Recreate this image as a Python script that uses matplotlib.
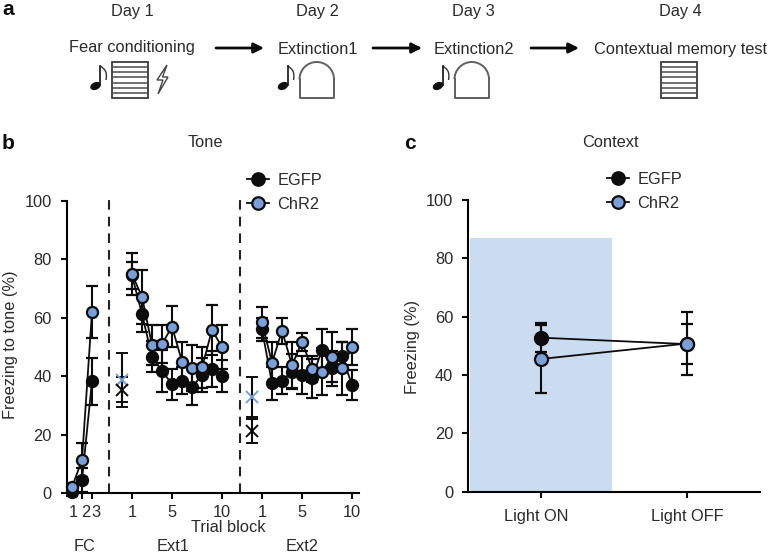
import matplotlib
matplotlib.use('Agg')
import matplotlib.pyplot as plt
from matplotlib.patches import Polygon, Rectangle, Arc, Ellipse, PathPatch
from matplotlib.path import Path
from matplotlib.transforms import ScaledTranslation

plt.rcParams['font.family'] = ['Liberation Sans', 'DejaVu Sans']

# panel b, freezing to tone
fc_blocks = [1, 2, 3]
fc_egfp = [0.5, 4.5, 38.3]
fc_egfp_err = [1.5, 4, 8]
fc_chr2 = [2, 11.3, 62]
fc_chr2_err = [1.5, 5.7, 9]

ext1_blocks = [7, 8, 9, 10, 11, 12, 13, 14, 15, 16]
ext1_egfp = [74.5, 61.3, 46.7, 41.8, 37.3, 38.5, 36.2, 40.4, 42.5, 40.2]
ext1_egfp_err = [4.7, 6.1, 5.2, 7.1, 5.3, 4.5, 6.2, 5.7, 6.1, 5.5]
ext1_chr2 = [74.9, 67.2, 50.7, 51, 57, 45, 42.7, 43, 55.8, 50]
ext1_chr2_err = [7.2, 9.2, 6.8, 6.5, 7, 6.8, 7.9, 7, 8.6, 7.5]

ext2_blocks = [20, 21, 22, 23, 24, 25, 26, 27, 28, 29]
ext2_egfp = [56, 37.6, 38.5, 41.6, 40.4, 39.3, 49, 42.7, 47, 37]
ext2_egfp_err = [4, 5.6, 4.5, 6, 6.4, 6.6, 7, 6, 4.6, 5]
ext2_chr2 = [58.4, 44.6, 55.6, 43.8, 51.8, 42.5, 41.6, 46.5, 42.7, 50]
ext2_chr2_err = [5.2, 7, 4.5, 8, 3, 4.5, 8, 8.6, 9, 6]

pre_blocks = [6, 19]
pre_egfp = [35.3, 21.2]
pre_egfp_err = [4.3, 4.2]
pre_chr2 = [38.7, 32.8]
pre_chr2_err = [9.1, 6.8]

tone_ticks = [1, 2, 3, 7, 11, 16, 20, 24, 29]
tone_ticklabels = ['1', '2', '3', '1', '5', '10', '1', '5', '10']
tone_dividers = [4.73, 17.77]

# panel c, freezing to context
context_labels = ['Light ON', 'Light OFF']
context_egfp = [52.8, 50.6]
context_egfp_err = [4.9, 6.8]
context_chr2 = [45.5, 50.8]
context_chr2_err = [11.5, 10.8]

yticks = [0, 20, 40, 60, 80, 100]

black = '#0c0c0c'
blue = '#7a9fd9'
text_col = '#2a2a2a'
fs = 11.8
W, H = 768, 553


def ax_rect(left, right, top, bottom):
    return [left / W, 1 - bottom / H, (right - left) / W, (bottom - top) / H]


def draw_series(ax, x, y, err, face, z, ms=8):
    ax.errorbar(x, y, yerr=err, color=black, lw=1.3, elinewidth=1.5, capsize=4.3, capthick=1.5,
                marker='o', ms=ms, mfc=face, mec=black, mew=1.6, zorder=z, clip_on=False)


def style_axes(ax):
    ax.spines['top'].set_visible(False)
    ax.spines['right'].set_visible(False)
    ax.spines['left'].set_linewidth(1.5)
    ax.spines['bottom'].set_linewidth(1.5)
    ax.patch.set_alpha(0)
    ax.set_ylim(0, 100)
    ax.set_yticks(yticks)
    ax.tick_params(axis='both', width=1.5, length=4.6, labelsize=fs, colors=black, labelcolor=text_col)
    ax.tick_params(axis='y', pad=6)


def draw_legend(ax, x, y):
    h1 = ax.errorbar([], [], color=black, lw=1.3, marker='o', ms=9, mfc=black, mec=black, mew=1.6)
    h2 = ax.errorbar([], [], color=black, lw=1.3, marker='o', ms=9, mfc=blue, mec=black, mew=1.6)
    leg = ax.legend([h1[0], h2[0]], ['EGFP', 'ChR2'], loc='upper left', bbox_to_anchor=(x, y),
                    frameon=False, fontsize=fs, handlelength=1.35, handletextpad=0.5,
                    labelspacing=0.55, borderpad=0, borderaxespad=0, labelcolor=text_col)
    leg.set_zorder(10)


fig = plt.figure(figsize=(W / 100, H / 100), dpi=100)

# whole-figure layer in pixel coordinates for the protocol schematic and labels
bg = fig.add_axes([0, 0, 1, 1])
bg.set_xlim(0, W)
bg.set_ylim(H, 0)
bg.axis('off')


def label(x, y, s, size=fs, weight='normal', col=text_col):
    bg.text(x, y + 1.5, s, ha='center', va='center', fontsize=size, fontweight=weight, color=col)


def striped_box(x0, y0, w, h):
    bg.add_patch(Rectangle((x0, y0), w, h, fc='white', ec='#3c3c3c', lw=1.3))
    for k in range(1, 7):
        yy = y0 + h * k / 7
        bg.plot([x0, x0 + w], [yy, yy], color='#4a4a4a', lw=1.1)


def arch(x0, y0, w, h):
    r = w / 2
    bg.add_patch(Arc((x0 + r, y0 + r), w, w, theta1=180, theta2=360, ec='#606060', lw=1.4))
    bg.plot([x0, x0, x0 + w, x0 + w], [y0 + r, y0 + h, y0 + h, y0 + r], color='#606060', lw=1.4)


def note(x, y):
    # x, y is the middle of the note head
    bg.add_patch(Ellipse((x, y), 11, 7.5, angle=-25, fc='#111111', ec='none'))
    bg.plot([x + 4.7, x + 4.7], [y - 1, y - 20], color='#111111', lw=1.2)
    flag = Path([(x + 4.7, y - 20), (x + 9, y - 17), (x + 12, y - 15), (x + 10.5, y - 6)],
                [Path.MOVETO, Path.CURVE4, Path.CURVE4, Path.CURVE4])
    bg.add_patch(PathPatch(flag, fc='none', ec='#333333', lw=1))


for x, s in zip([132, 317, 473, 680], ['Day 1', 'Day 2', 'Day 3', 'Day 4']):
    label(x, 10, s)
label(132, 46, 'Fear conditioning')
label(318, 48, 'Extinction1')
label(474, 48, 'Extinction2')
label(681, 48, 'Contextual memory test')

for x0, x1 in [(216, 264), (373, 422), (531, 579)]:
    bg.annotate('', xy=(x1, 48), xytext=(x0, 48),
                arrowprops=dict(arrowstyle='-|>,head_length=0.6,head_width=0.3', color=black, lw=2,
                                shrinkA=0, shrinkB=0))

striped_box(112, 62, 36, 36)
striped_box(661, 62, 36, 36)
arch(299.5, 62, 34.5, 36)
arch(454.5, 62, 34.5, 36)
note(95.5, 86)
note(283, 86)
note(438, 86)
bg.add_patch(Polygon([(167, 65), (157, 80), (163, 80), (158, 94), (168, 77), (162.5, 77)],
                     closed=True, fc='white', ec='#444444', lw=1))

label(8, 8, 'a', size=15, weight='bold', col=black)
label(8, 142, 'b', size=15, weight='bold', col=black)
label(410, 142, 'c', size=15, weight='bold', col=black)
label(205, 141, 'Tone')
label(610, 141, 'Context')
label(85, 545, 'FC')
label(173, 545, 'Ext1')
label(302, 545, 'Ext2')

# panel b
ax1 = fig.add_axes(ax_rect(66.5, 359, 201, 493))
style_axes(ax1)
ax1.set_xlim(0.45, 29.7)
ax1.set_xticks(tone_ticks)
ax1.set_xticklabels(tone_ticklabels)
ax1.tick_params(axis='x', pad=4)
for lab, shift in zip(ax1.get_xticklabels()[:3], [1, 3.5, 4]):
    lab.set_transform(lab.get_transform() + ScaledTranslation(shift / 100, 0, fig.dpi_scale_trans))
for xd in tone_dividers:
    ax1.plot([xd, xd], [0, 101], color='#222222', lw=1.5, ls=(0, (4.6, 3.4)), clip_on=False, zorder=1)

draw_series(ax1, fc_blocks, fc_egfp, fc_egfp_err, black, 3)
draw_series(ax1, ext1_blocks, ext1_egfp, ext1_egfp_err, black, 3)
draw_series(ax1, ext2_blocks, ext2_egfp, ext2_egfp_err, black, 3)
draw_series(ax1, fc_blocks, fc_chr2, fc_chr2_err, blue, 4)
draw_series(ax1, ext1_blocks, ext1_chr2, ext1_chr2_err, blue, 4)
draw_series(ax1, ext2_blocks, ext2_chr2, ext2_chr2_err, blue, 4)

ax1.errorbar(pre_blocks, pre_chr2, yerr=pre_chr2_err, ls='none', ecolor=black, elinewidth=1.5,
             capsize=4.3, capthick=1.5, marker='x', ms=8, mec=blue, mew=1.4, zorder=3)
ax1.errorbar(pre_blocks, pre_egfp, yerr=pre_egfp_err, ls='none', ecolor=black, elinewidth=1.5,
             capsize=4.3, capthick=1.5, marker='x', ms=8, mec=black, mew=1.4, zorder=3)

ax1.set_ylabel('Freezing to tone (%)', fontsize=fs, color=text_col)
ax1.yaxis.set_label_coords((18 - 66.5) / 292.5, 0.507)
ax1.set_xlabel('Trial block', fontsize=fs, color=text_col, va='center')
ax1.xaxis.set_label_coords((228 - 66.5) / 292.5, -35 / 292)
draw_legend(ax1, (247 - 66.5) / 292.5, 1 + 28 / 292)

# panel c
ax2 = fig.add_axes(ax_rect(468, 760, 200, 491.7))
style_axes(ax2)
ax2.set_xlim(-0.5, 1.5)
ax2.set_xticks([0, 1])
ax2.set_xticklabels(context_labels)
ax2.tick_params(axis='x', pad=8)
ax2.get_xticklabels()[0].set_transform(ax2.get_xticklabels()[0].get_transform()
                                       + ScaledTranslation(-5 / 100, 0, fig.dpi_scale_trans))
ax2.axvspan(-0.487, 0.489, ymin=0, ymax=0.87, color='#cbdbf0', lw=0, zorder=0)
draw_series(ax2, [0, 1], context_egfp, context_egfp_err, black, 3, ms=9.4)
draw_series(ax2, [0, 1], context_chr2, context_chr2_err, blue, 4, ms=9.4)
ax2.set_ylabel('Freezing (%)', fontsize=fs, color=text_col)
ax2.yaxis.set_label_coords((420 - 468) / 292, 0.495)
draw_legend(ax2, (607 - 468) / 292, 1 + 28 / 292)

fig.savefig('out.png', dpi=100)
